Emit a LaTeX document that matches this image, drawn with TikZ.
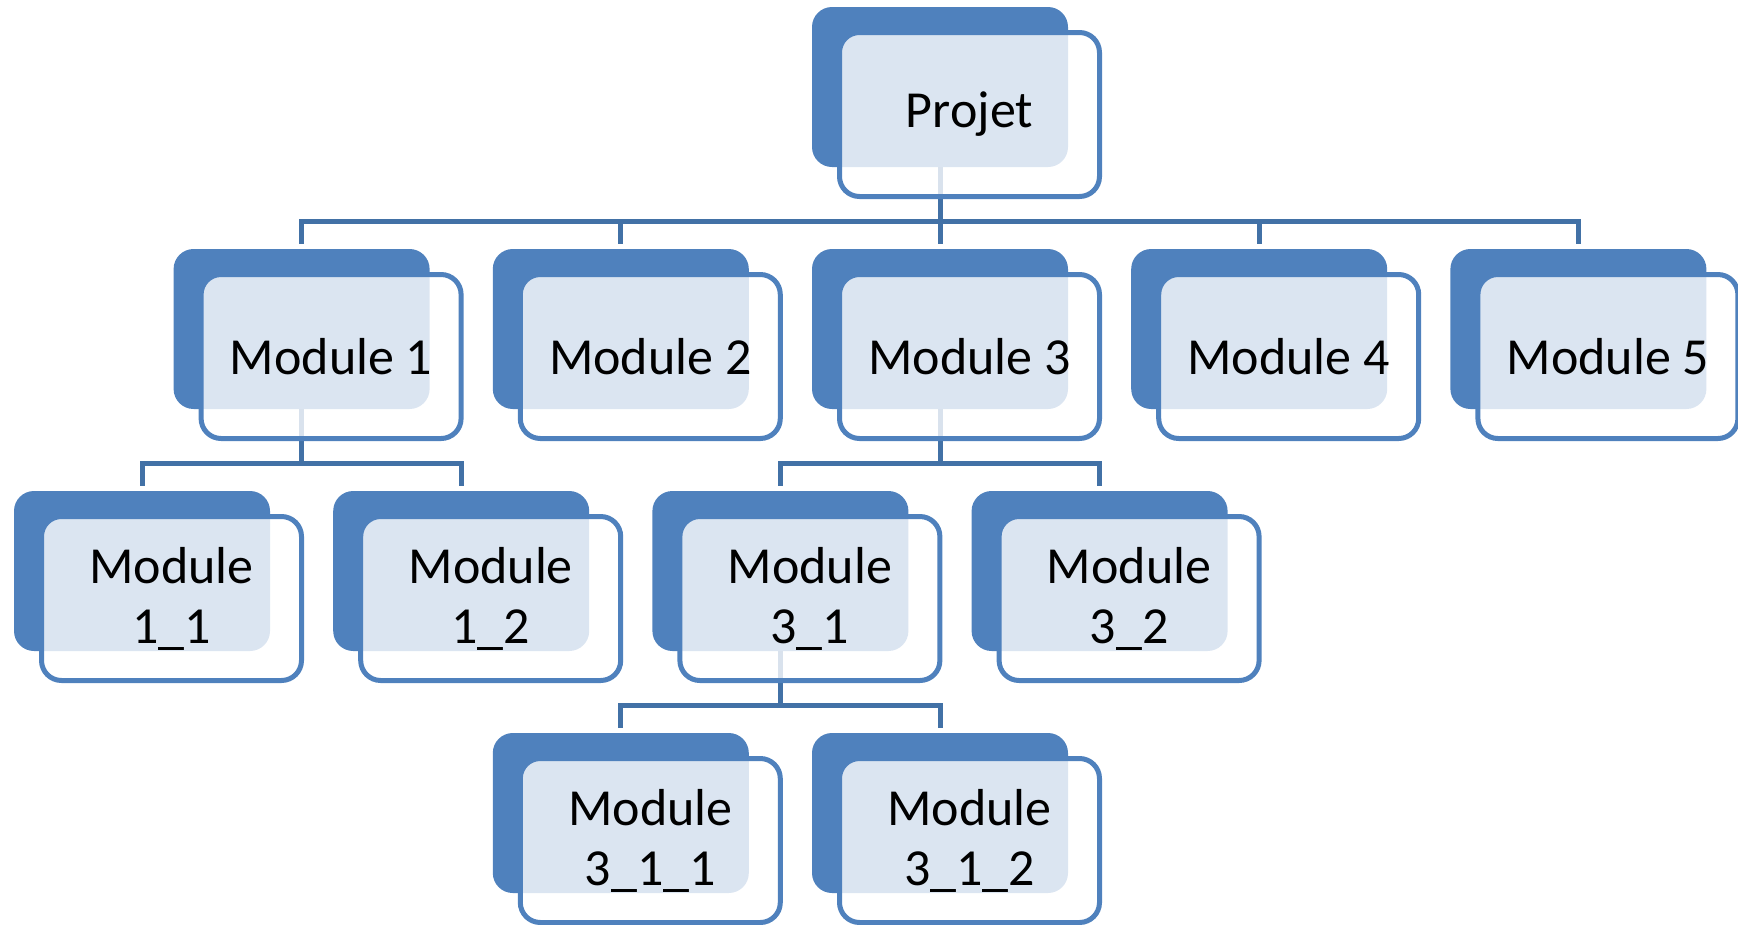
\documentclass[tikz,border=0pt]{standalone}
\usepackage{fontspec}
\setmainfont{Carlito}
\definecolor{boxblue}{HTML}{4F81BD}
\definecolor{linkblue}{HTML}{4271A6}

\begin{document}
\begin{tikzpicture}[x=1pt,y=-1pt,
  backbox/.style={shape=rectangle, rounded corners=20pt, fill=boxblue,
    minimum width=256pt, minimum height=160pt, inner sep=0pt},
  frontbox/.style={shape=rectangle, rounded corners=20pt, draw=boxblue,
    line width=5pt, fill=white, fill opacity=0.8, text opacity=1,
    minimum width=260pt, minimum height=164pt, inner sep=0pt,
    align=center, font=\fontsize{52}{60}\selectfont},
  link/.style={draw=linkblue, line width=5pt}]
\useasboundingbox (0,0) rectangle (1738,924);

% back tabs of every box
\node[backbox] (pj)   at (940,87)    {};
\node[backbox] (m1)   at (301.6,329) {};
\node[backbox] (m2)   at (620.8,329) {};
\node[backbox] (m3)   at (940,329)   {};
\node[backbox] (m4)   at (1259.2,329) {};
\node[backbox] (m5)   at (1578.4,329) {};
\node[backbox] (m11)  at (142,571)   {};
\node[backbox] (m12)  at (461.2,571) {};
\node[backbox] (m31)  at (780.4,571) {};
\node[backbox] (m32)  at (1099.6,571) {};
\node[backbox] (m311) at (620.8,813) {};
\node[backbox] (m312) at (940,813)   {};

% tree links: down from the parent, along the bar, down to the child
\newcommand\treelink[2]{%
  \draw[link] (#1.south) |- ([yshift=27pt]#2.north) -- ([yshift=5pt]#2.north);}
\treelink{pj}{m1}
\treelink{pj}{m2}
\treelink{pj}{m3}
\treelink{pj}{m4}
\treelink{pj}{m5}
\treelink{m1}{m11}
\treelink{m1}{m12}
\treelink{m3}{m31}
\treelink{m3}{m32}
\treelink{m31}{m311}
\treelink{m31}{m312}

% front cards with the labels
\node[frontbox] (pj-f)   at ([xshift=29.5pt,yshift=-27.5pt]pj.center)   {Projet};
\node[frontbox] (m1-f)   at ([xshift=29.5pt,yshift=-27.5pt]m1.center)   {Module 1};
\node[frontbox] (m2-f)   at ([xshift=29.5pt,yshift=-27.5pt]m2.center)   {Module 2};
\node[frontbox] (m3-f)   at ([xshift=29.5pt,yshift=-27.5pt]m3.center)   {Module 3};
\node[frontbox] (m4-f)   at ([xshift=29.5pt,yshift=-27.5pt]m4.center)   {Module 4};
\node[frontbox] (m5-f)   at ([xshift=29.5pt,yshift=-27.5pt]m5.center)   {Module 5};
\node[frontbox] (m11-f)  at ([xshift=29.5pt,yshift=-27.5pt]m11.center)  {Module\\1\_1};
\node[frontbox] (m12-f)  at ([xshift=29.5pt,yshift=-27.5pt]m12.center)  {Module\\1\_2};
\node[frontbox] (m31-f)  at ([xshift=29.5pt,yshift=-27.5pt]m31.center)  {Module\\3\_1};
\node[frontbox] (m32-f)  at ([xshift=29.5pt,yshift=-27.5pt]m32.center)  {Module\\3\_2};
\node[frontbox] (m311-f) at ([xshift=29.5pt,yshift=-27.5pt]m311.center) {Module\\3\_1\_1};
\node[frontbox] (m312-f) at ([xshift=29.5pt,yshift=-27.5pt]m312.center) {Module\\3\_1\_2};
\end{tikzpicture}
\end{document}
